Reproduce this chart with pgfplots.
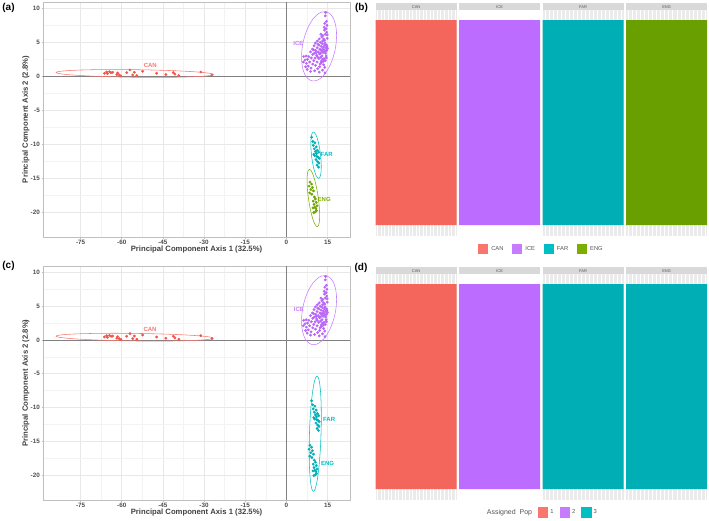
\documentclass[border=0pt]{standalone}
\usepackage{fontspec}
\setmainfont{Liberation Sans}
\usepackage{pgfplots}
\usepackage{pgfplotstable}
\pgfplotsset{compat=1.18}
\definecolor{canpt}{HTML}{F0554B}
\definecolor{icept}{HTML}{B866F7}
\definecolor{farpt}{HTML}{00B0B6}
\definecolor{engpt}{HTML}{6FA300}
\definecolor{canln}{HTML}{F8766D}
\definecolor{iceln}{HTML}{C77CFF}
\definecolor{farln}{HTML}{00BFC4}
\definecolor{engln}{HTML}{7CAE00}
\definecolor{canbar}{HTML}{F4655B}
\definecolor{icebar}{HTML}{BC6DFF}
\definecolor{farbar}{HTML}{00AFB6}
\definecolor{engbar}{HTML}{6A9F00}
\definecolor{gridmaj}{HTML}{E8E8E8}
\definecolor{gridmin}{HTML}{F3F3F3}
\definecolor{frame}{HTML}{BFBFBF}
\definecolor{zeroln}{HTML}{808080}
\definecolor{ticktext}{HTML}{4D4D4D}
\definecolor{titletext}{HTML}{404040}
\definecolor{panelbg}{HTML}{EBEBEB}
\definecolor{stripbg}{HTML}{D9D9D9}
\definecolor{striptext}{HTML}{555555}
\definecolor{legtext}{HTML}{555555}

\newcommand{\tickfont}{\fontsize{6.3}{7}\selectfont\bfseries}
\newcommand{\titlefont}{\fontsize{7.7}{8}\selectfont\bfseries}

% ---------- PCA scores ----------
\pgfplotstableread{
x y
-66.3 0.44
-65.5 0.63
-65.2 0.39
-64.5 0.68
-63.9 0.54
-63.3 0.58
-61.8 0.25
-61.5 0.49
-60.9 0.19
-60.3 0.05
-58.2 0.54
-57.0 0.93
-56.0 0.19
-55.4 0.58
-54.5 0.10
-52.4 0.73
-47.3 0.44
-43.9 0.25
-41.2 0.54
-40.6 0.30
-39.2 0.10
-31.2 0.63
-27.1 0.19
}\canpts
\pgfplotstableread{
x y
14.3 9.4
14.2 8.9
14.6 8.1
14.0 7.8
14.8 7.5
14.5 7.0
13.9 6.8
14.7 6.5
14.2 6.2
13.3 6.0
12.6 6.2
12.9 5.8
14.9 5.6
13.6 5.5
12.0 5.5
11.3 5.2
12.4 5.0
10.6 4.9
13.1 4.8
14.1 4.9
14.6 4.6
11.9 4.6
10.1 4.5
12.7 4.4
13.5 4.3
14.4 4.2
15.0 4.1
11.2 4.2
9.5 4.0
12.2 4.0
13.8 3.9
14.7 3.8
10.7 3.8
12.9 3.7
11.6 3.6
8.8 3.6
13.4 3.5
14.3 3.4
10.2 3.4
12.1 3.3
9.6 3.2
11.0 3.1
13.0 3.0
14.5 3.0
7.2 3.0
8.2 2.9
6.3 2.9
12.5 2.8
10.5 2.7
9.1 2.7
11.8 2.6
13.7 2.6
7.7 2.5
6.8 2.4
10.0 2.3
14.2 2.3
6.2 2.1
8.5 2.1
11.2 2.1
12.8 2.0
7.3 1.9
9.6 1.8
13.6 1.7
10.6 1.6
8.0 1.5
12.1 1.4
14.0 1.3
9.0 1.2
11.4 1.1
7.6 1.0
13.2 0.9
10.3 0.8
12.0 0.6
14.1 0.5
8.8 0.7
13.5 2.2
12.3 1.8
7.0 1.4
13.2 5.2
14.0 5.3
12.6 3.9
13.9 4.6
14.8 4.4
11.5 4.7
13.3 4.0
12.4 3.4
14.0 3.7
11.3 2.9
13.1 2.5
10.9 3.5
9.9 3.9
14.6 2.7
12.7 2.2
14.9 6.1
13.8 7.2
}\icepts
\pgfplotstableread{
x y
9.2 -9.0
9.6 -9.6
10.4 -9.8
9.8 -10.2
10.9 -10.4
10.2 -10.7
11.3 -10.9
10.6 -11.1
11.0 -11.4
11.8 -11.2
10.3 -11.7
11.5 -11.9
12.0 -12.1
10.8 -12.3
11.4 -12.6
11.9 -12.8
11.2 -13.1
11.7 -13.4
10.0 -11.5
11.1 -11.8
}\farpts
\pgfplotstableread{
x y
8.6 -15.6
9.2 -15.9
8.3 -16.2
9.5 -16.4
8.9 -16.7
9.9 -16.9
8.5 -17.2
9.3 -17.4
10.2 -17.8
10.6 -18.1
9.8 -18.4
10.9 -18.6
10.1 -18.9
11.2 -19.1
10.4 -19.3
10.8 -19.5
11.0 -19.8
10.0 -20.1
10.5 -20.0
9.7 -19.4
}\engpts

% ---------- confidence ellipses (outline points) ----------
\pgfplotstableread{
x y
-26.57 0.26
-27.55 0.41
-30.41 0.56
-34.97 0.70
-40.91 0.82
-47.82 0.91
-55.25 0.97
-62.68 0.99
-69.59 0.97
-75.53 0.91
-80.09 0.82
-82.95 0.70
-83.93 0.56
-82.95 0.41
-80.09 0.26
-75.53 0.12
-69.59 0.00
-62.68 -0.09
-55.25 -0.15
-47.82 -0.17
-40.91 -0.15
-34.97 -0.09
-30.41 0.00
-27.55 0.12
-26.57 0.26
}\canell
\pgfplotstableread{
x y
14.47 9.52
15.90 9.22
17.06 8.60
17.87 7.69
18.27 6.55
18.24 5.28
17.78 3.94
16.92 2.64
15.72 1.45
14.26 0.48
12.64 -0.24
10.98 -0.63
9.37 -0.68
7.94 -0.38
6.78 0.24
5.97 1.15
5.57 2.29
5.60 3.56
6.06 4.90
6.92 6.21
8.12 7.39
9.58 8.37
11.20 9.08
12.87 9.47
14.47 9.52
}\iceell
\pgfplotstableread{
x y
9.84 -8.22
10.30 -8.32
10.79 -8.64
11.28 -9.17
11.74 -9.86
12.14 -10.68
12.45 -11.56
12.65 -12.45
12.72 -13.28
12.67 -14.00
12.48 -14.56
12.19 -14.92
11.80 -15.06
11.35 -14.96
10.85 -14.64
10.36 -14.11
9.90 -13.42
9.50 -12.60
9.19 -11.72
8.99 -10.83
8.92 -10.00
8.98 -9.28
9.16 -8.72
9.45 -8.36
9.84 -8.22
}\farell
\pgfplotstableread{
x y
8.38 -13.72
8.89 -13.84
9.46 -14.24
10.06 -14.89
10.64 -15.75
11.17 -16.76
11.61 -17.85
11.93 -18.95
12.10 -19.98
12.12 -20.87
11.99 -21.56
11.71 -22.01
11.30 -22.18
10.79 -22.06
10.22 -21.66
9.62 -21.01
9.04 -20.15
8.51 -19.14
8.07 -18.05
7.75 -16.95
7.58 -15.92
7.56 -15.03
7.69 -14.34
7.97 -13.89
8.38 -13.72
}\engell
\pgfplotstableread{
x y
11.19 -5.34
11.71 -5.63
12.16 -6.48
12.49 -7.84
12.69 -9.61
12.74 -11.67
12.64 -13.88
12.40 -16.09
12.03 -18.15
11.56 -19.92
11.01 -21.28
10.44 -22.13
9.87 -22.42
9.35 -22.13
8.90 -21.28
8.57 -19.92
8.37 -18.15
8.32 -16.09
8.42 -13.88
8.66 -11.67
9.03 -9.61
9.51 -7.84
10.05 -6.48
10.62 -5.63
11.19 -5.34
}\fengell

\tikzset{
  clab/.style={font=\fontsize{6}{6}\selectfont\bfseries},
  strip/.style={font=\fontsize{4}{4}\selectfont, text=striptext},
}
\pgfplotsset{
  pca/.style={
    scale only axis, width=307pt,
    xmin=-88.7, xmax=23.2, ymin=-23.7, ymax=10.95,
    xtick={-75,-60,-45,-30,-15,0,15},
    xticklabels={-75,-60,-45,-30,-15,0,15},
    ytick={-20,-15,-10,-5,0,5,10},
    yticklabels={-20,-15,-10,-5,0,5,10},
    minor x tick num=1, minor y tick num=1,
    grid=both,
    major grid style={color=gridmaj, line width=0.5pt},
    minor grid style={color=gridmin, line width=0.35pt},
    axis line style={color=frame, line width=0.8pt},
    tick style={color=frame, line width=0.5pt},
    major tick length=1.5pt, minor tick length=0pt,
    tick align=outside, xtick pos=lower, ytick pos=lower,
    xticklabel style={font=\tickfont, text=ticktext, inner sep=1pt},
    yticklabel style={font=\tickfont, text=ticktext, inner sep=1.5pt},
    xlabel={Principal Component Axis 1 (32.5\%)},
    ylabel={Principal Component Axis 2 (2.8\%)},
    every axis x label/.style={at={(axis description cs:0.5,-0.053)}, anchor=center},
    every axis y label/.style={at={(axis description cs:-0.0554,0.5)}, anchor=center, rotate=90},
    xlabel style={font=\titlefont, text=titletext},
    ylabel style={font=\titlefont, text=titletext},
    clip=true,
  },
  zl/.style={zeroln, line width=0.8pt, forget plot},
  ell/.style={smooth, line width=0.55pt, forget plot},
  pts/.style={only marks, mark=*, mark size=1.2pt, forget plot},
  facet/.style={
    scale only axis, width=80.8pt, height=226pt,
    ymin=-0.053, ymax=1.05,
    axis background/.style={fill=panelbg},
    axis line style={draw=none}, tick style={draw=none},
    ytick=\empty, xticklabels={},
    xmajorgrids, major grid style={white, line width=0.4pt},
    clip=false,
  },
  legbox/.style={
    legend columns=4,
    legend cell align=left,
    legend style={draw=none, fill=none, font=\fontsize{5.8}{6}\selectfont, text=legtext},
    legend image code/.code={\fill[##1] (0pt,-5.2pt) rectangle (10.4pt,5.2pt);},
  },
}

\newcommand{\stripfill}[1]{%
  \fill[stripbg] (rel axis cs:0,1) rectangle ([yshift=6.7pt]rel axis cs:1,1);
  \node[strip] at ([yshift=3.35pt]rel axis cs:0.5,1) {#1};}

\begin{document}
\begin{tikzpicture}
\useasboundingbox (0,0) rectangle (709pt,520pt);

% ================= (a) =================
\begin{axis}[pca, at={(43pt,283pt)}, anchor=south west, height=235pt]
  \addplot[zl] coordinates {(-88.7,0) (23.2,0)};
  \addplot[zl] coordinates {(0,-23.7) (0,10.95)};
  \addplot[ell, canln] table {\canell};
  \addplot[ell, iceln] table {\iceell};
  \addplot[ell, farln] table {\farell};
  \addplot[ell, engln] table {\engell};
  \addplot[pts, canpt] table {\canpts};
  \addplot[pts, icept] table {\icepts};
  \addplot[pts, farpt] table {\farpts};
  \addplot[pts, engpt] table {\engpts};
  \node[clab, text=canln] at (axis cs:-49.6,1.67) {CAN};
  \node[clab, text=iceln] at (axis cs:4.4,4.9) {ICE};
  \node[clab, text=farln] at (axis cs:14.7,-11.5) {FAR};
  \node[clab, text=engln] at (axis cs:13.8,-18.1) {ENG};
\end{axis}

% ================= (c) =================
\begin{axis}[pca, at={(43pt,20pt)}, anchor=south west, height=234pt]
  \addplot[zl] coordinates {(-88.7,0) (23.2,0)};
  \addplot[zl] coordinates {(0,-23.7) (0,10.95)};
  \addplot[ell, canln] table {\canell};
  \addplot[ell, iceln] table {\iceell};
  \addplot[ell, farln] table {\fengell};
  \addplot[pts, canpt] table {\canpts};
  \addplot[pts, icept] table {\icepts};
  \addplot[pts, farpt] table {\farpts};
  \addplot[pts, farpt] table {\engpts};
  \node[clab, text=canln] at (axis cs:-49.7,1.53) {CAN};
  \node[clab, text=iceln] at (axis cs:4.6,4.5) {ICE};
  \node[clab, text=farln] at (axis cs:15.6,-11.8) {FAR};
  \node[clab, text=farln] at (axis cs:15.0,-18.3) {ENG};
\end{axis}

% ================= (b) =================
\begin{axis}[facet, at={(375.7pt,284pt)}, anchor=south west, xmin=0.5, xmax=23.5, xtick={1,...,23}]
  \addplot[fill=canbar, draw=none, forget plot] coordinates {(0.5,0) (0.5,1) (23.5,1) (23.5,0) (0.5,0)};
  \stripfill{CAN}
\end{axis}
\begin{axis}[facet, legbox, at={(459.2pt,284pt)}, anchor=south west, xmin=0.5, xmax=95.5, xtick={1,...,95},
  legend style={at={(axis description cs:1.016,-0.0575)}, anchor=center,
    /tikz/every odd column/.append style={column sep=1pt},
    /tikz/every even column/.append style={column sep=6.5pt}}]
  \addplot[fill=icebar, draw=none, forget plot] coordinates {(0.5,0) (0.5,1) (95.5,1) (95.5,0) (0.5,0)};
  \stripfill{ICE}
  \addlegendimage{fill=canln, draw=none}\addlegendentry{CAN}
  \addlegendimage{fill=iceln, draw=none}\addlegendentry{ICE}
  \addlegendimage{fill=farln, draw=none}\addlegendentry{FAR}
  \addlegendimage{fill=engln, draw=none}\addlegendentry{ENG}
\end{axis}
\begin{axis}[facet, at={(542.7pt,284pt)}, anchor=south west, xmin=0.5, xmax=20.5, xtick={1,...,20}]
  \addplot[fill=farbar, draw=none, forget plot] coordinates {(0.5,0) (0.5,1) (20.5,1) (20.5,0) (0.5,0)};
  \stripfill{FAR}
\end{axis}
\begin{axis}[facet, at={(626.2pt,284pt)}, anchor=south west, xmin=0.5, xmax=20.5, xtick={1,...,20}]
  \addplot[fill=engbar, draw=none, forget plot] coordinates {(0.5,0) (0.5,1) (20.5,1) (20.5,0) (0.5,0)};
  \stripfill{ENG}
\end{axis}

% ================= (d) =================
\begin{axis}[facet, at={(375.7pt,20pt)}, anchor=south west, xmin=0.5, xmax=23.5, xtick={1,...,23}]
  \addplot[fill=canbar, draw=none, forget plot] coordinates {(0.5,0) (0.5,1) (23.5,1) (23.5,0) (0.5,0)};
  \stripfill{CAN}
\end{axis}
\begin{axis}[facet, legbox, at={(459.2pt,20pt)}, anchor=south west, xmin=0.5, xmax=95.5, xtick={1,...,95},
  legend style={at={(axis description cs:1.024,-0.056)}, anchor=center,
    /tikz/every even column/.append style={column sep=4pt}}]
  \addplot[fill=icebar, draw=none, forget plot] coordinates {(0.5,0) (0.5,1) (95.5,1) (95.5,0) (0.5,0)};
  \stripfill{ICE}
  \addlegendimage{empty legend}\addlegendentry{\fontsize{7}{7}\selectfont Assigned\ \ Pop}
  \addlegendimage{fill=canln, draw=none}\addlegendentry{1}
  \addlegendimage{fill=iceln, draw=none}\addlegendentry{2}
  \addlegendimage{fill=farln, draw=none}\addlegendentry{3}
\end{axis}
\begin{axis}[facet, at={(542.7pt,20pt)}, anchor=south west, xmin=0.5, xmax=20.5, xtick={1,...,20}]
  \addplot[fill=farbar, draw=none, forget plot] coordinates {(0.5,0) (0.5,1) (20.5,1) (20.5,0) (0.5,0)};
  \stripfill{FAR}
\end{axis}
\begin{axis}[facet, at={(626.2pt,20pt)}, anchor=south west, xmin=0.5, xmax=20.5, xtick={1,...,20}]
  \addplot[fill=farbar, draw=none, forget plot] coordinates {(0.5,0) (0.5,1) (20.5,1) (20.5,0) (0.5,0)};
  \stripfill{ENG}
\end{axis}

% panel tags
\node[font=\fontsize{10}{10}\selectfont\bfseries] at (8.5pt,512pt) {(a)};
\node[font=\fontsize{10}{10}\selectfont\bfseries] at (361.5pt,512pt) {(b)};
\node[font=\fontsize{10}{10}\selectfont\bfseries] at (8.5pt,254pt) {(c)};
\node[font=\fontsize{10}{10}\selectfont\bfseries] at (361pt,252.5pt) {(d)};
\end{tikzpicture}
\end{document}
